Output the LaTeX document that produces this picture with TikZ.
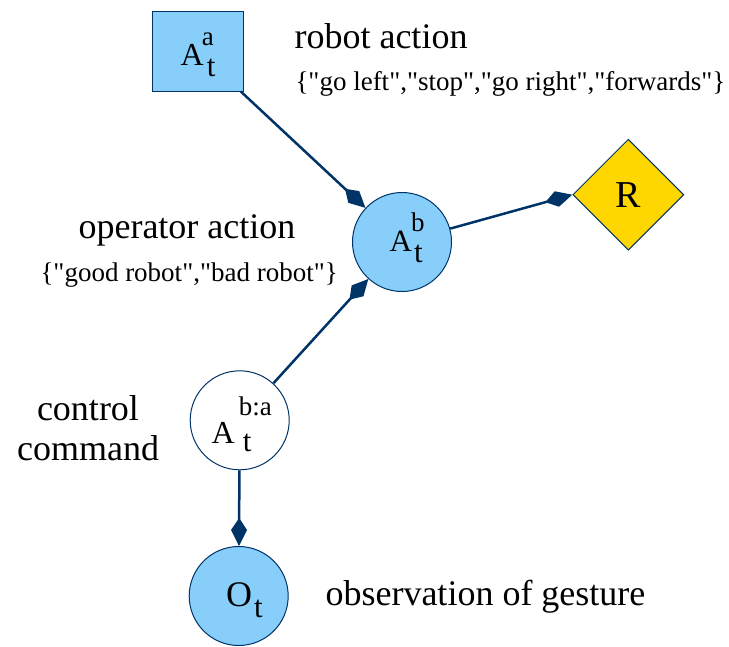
\documentclass[tikz,border=0pt]{standalone}
\usepackage{fontspec}
\setmainfont{Liberation Serif}[Ligatures=TeXOff]
\usetikzlibrary{shapes.geometric,arrows.meta}
\definecolor{edgeblue}{RGB}{0,51,102}
\definecolor{varblue}{RGB}{135,206,250}
\definecolor{rewardgold}{RGB}{255,215,0}
\newcommand{\bigtxt}{\fontsize{36}{40}\selectfont}
\newcommand{\settxt}{\fontsize{27}{30}\selectfont}
\newcommand{\suptxt}{\fontsize{27}{27}\selectfont}
\newcommand{\subtxt}{\fontsize{31}{31}\selectfont}
% main letter, sup, sub, raise of sup, drop of sub, kern of sup, kern of sub
\newcommand{\varlbl}[7]{#1\rlap{\kern#6\raisebox{#4}{\suptxt #2}}\kern#7\raisebox{#5}{\subtxt #3}}

\begin{document}
\begin{tikzpicture}[x=1pt,y=-1pt,
  var/.style={circle,draw=edgeblue,line width=1pt,minimum size=99pt,inner sep=0pt},
  vartxt/.style={anchor=base west,inner sep=0pt,font=\fontsize{32}{32}\selectfont},
  link/.style={edgeblue,line width=2.5pt,-{Kite[length=28pt,width=16pt,inset=12pt]}}]
\useasboundingbox (0,0) rectangle (729,646);
% variables
\node[var,rectangle,fill=varblue,minimum width=91pt,minimum height=80pt] (Aa) at (197.5,51) {};
\node[var,fill=varblue] (Ab) at (402,242) {};
\node[var,fill=white] (Aba) at (239.7,420.3) {};
\node[var,fill=varblue] (Ot) at (238.7,596) {};
\node[diamond,draw=edgeblue,line width=1pt,fill=rewardgold,minimum width=111pt,minimum height=111pt,inner sep=0pt,font=\fontsize{38}{38}\selectfont] (R) at (628.3,194.7) {R};
\node[vartxt] (Aalbl) at (180.5,65) {\varlbl{A}{a}{t}{20pt}{-11pt}{-2pt}{3pt}};
\node[vartxt,font=\fontsize{31}{31}\selectfont] (Ablbl) at (389.5,251) {\varlbl{A}{b}{t}{20pt}{-11pt}{-1pt}{2pt}};
\node[vartxt] (Abalbl) at (211.5,443) {\varlbl{A}{b:a}{t}{28pt}{-8pt}{4pt}{8pt}};
\node[vartxt,font=\fontsize{36}{36}\selectfont] (Otlbl) at (226,606) {\varlbl{O}{}{t}{0pt}{-11pt}{0pt}{2pt}};
% links
\draw[link] (Aa) -- (Ab);
\draw[link] (Ab) -- (R.west);
\draw[link] (Aba) -- (Ab);
\draw[link] (Aba) -- (Ot);
% labels
\node[anchor=base west,font=\bigtxt] (robotlbl) at (291,48) {robot action};
\node[anchor=base west,font=\settxt] (robotset) at (292,90) {\{"go left","stop","go right","forwards"\}};
\node[anchor=base west,font=\bigtxt] (operlbl) at (75,238) {operator action};
\node[anchor=base west,font=\settxt] (operset) at (37,281) {\{"good robot","bad robot"\}};
\node[align=center,font=\bigtxt] (ctrllbl) at (88,428) {control\\command};
\node[anchor=base west,font=\bigtxt] (obslbl) at (322,605) {observation of gesture};
\end{tikzpicture}
\end{document}
